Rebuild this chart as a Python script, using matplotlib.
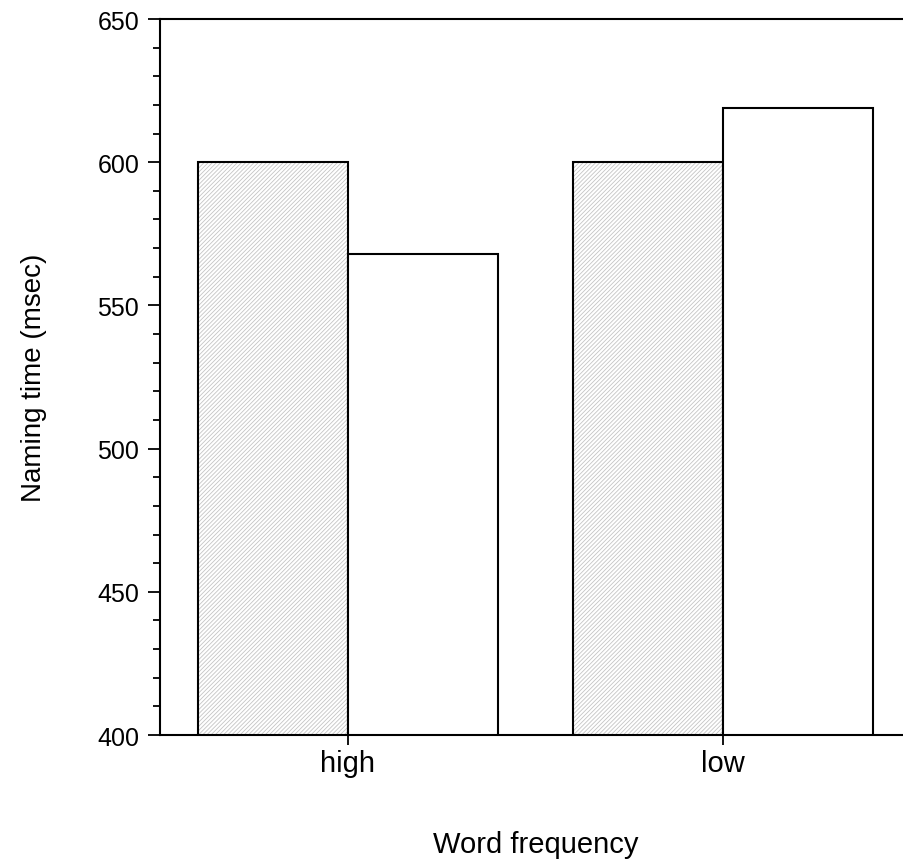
import matplotlib.pyplot as plt
import matplotlib.ticker as tck
import numpy as np

plt.rcParams['font.family'] = ['Liberation Sans', 'DejaVu Sans']
plt.rcParams['hatch.linewidth'] = 0.6

# data
categories = ["high", "low"]
hatched_vals = [600, 600]
plain_vals = [568, 619]

fig = plt.figure(figsize=(9.04, 8.62), dpi=100)
ax = fig.add_axes([160 / 904, 1 - 736 / 862, 751 / 904, 716 / 862])

x = np.arange(len(categories))
w = 0.4
# hatch takes the edge colour, so draw the grey hatch first, then the black outline
ax.bar(x - w / 2, hatched_vals, width=w, color='white', edgecolor='#c4c4c4',
       linewidth=0, hatch='////////')
ax.bar(x - w / 2, hatched_vals, width=w, fill=False, edgecolor='black',
       linewidth=1.5)
ax.bar(x + w / 2, plain_vals, width=w, color='white', edgecolor='black',
       linewidth=1.5)

ax.set_xlim(-0.5, 1.5)
ax.set_ylim(400, 650)
ax.set_xticks(x)
ax.set_xticklabels(categories)
ax.yaxis.set_major_locator(tck.MultipleLocator(50))
ax.yaxis.set_minor_locator(tck.MultipleLocator(10))

for s in ax.spines.values():
    s.set_linewidth(1.5)
ax.spines['right'].set_visible(False)

ax.tick_params(axis='y', which='major', direction='out', length=9, width=1.3,
               labelsize=18, pad=6)
ax.tick_params(axis='y', which='minor', direction='out', length=5, width=1.3)
ax.tick_params(axis='x', which='major', direction='out', length=7, width=1.3,
               labelsize=21, pad=3)

ax.set_xlabel("Word frequency", fontsize=21, labelpad=38)
ax.set_ylabel("Naming time (msec)", fontsize=20, labelpad=36)

fig.savefig("out.png", dpi=100)
